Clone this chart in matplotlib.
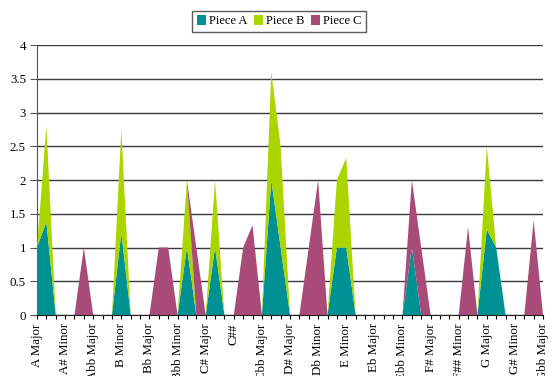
import matplotlib
matplotlib.use("Agg")
import matplotlib.pyplot as plt
import numpy as np

plt.rcParams["font.family"] = ["Liberation Serif", "DejaVu Serif"]

keys = [
    "A Major", "A Minor", "A# Major", "A# Minor", "Ab Major", "Ab Minor",
    "Abb Major", "Abb Minor", "B Major", "B Minor", "B# Major", "B# Minor",
    "Bb Major", "Bb Minor", "Bbb Major", "Bbb Minor", "C Major", "C Minor",
    "C# Major", "C# Minor", "C## Major", "C##", "Cb Major", "Cb Minor",
    "Cbb Major", "D Major", "D Minor", "D# Major", "D# Minor", "Db Major",
    "Db Minor", "Dbb Major", "E Major", "E Minor", "E# Major", "E# Minor",
    "Eb Major", "Eb Minor", "Ebb Major", "Ebb Minor", "F Major", "F Minor",
    "F# Major", "F# Minor", "F## Major", "F## Minor", "Fb Major", "Fb Minor",
    "G Major", "G Minor", "G# Major", "G# Minor", "Gb Major", "Gb Minor",
    "Gbb Major",
]

piece_a = [1.0, 1.38, 0, 0, 0, 0, 0, 0, 0, 1.22, 0,
           0, 0, 0, 0, 0, 1.0, 0, 0, 1.0, 0, 0,
           0, 0, 0, 2.0, 1.0, 0, 0, 0, 0, 0, 1.0,
           1.0, 0, 0, 0, 0, 0, 0, 1.0, 0, 0, 0,
           0, 0, 0, 0, 1.27, 1.0, 0, 0, 0, 0, 0]
piece_b = [0, 1.42, 0, 0, 0, 0, 0, 0, 0, 1.53, 0,
           0, 0, 0, 0, 0, 1.0, 0, 0, 1.0, 0, 0,
           0, 0, 0, 1.6, 1.5, 0, 0, 0, 0, 0, 1.0,
           1.33, 0, 0, 0, 0, 0, 0, 0, 0, 0, 0,
           0, 0, 0, 0, 1.23, 0, 0, 0, 0, 0, 0]
piece_c = [0, 0, 0, 0, 0, 1.0, 0, 0, 0, 0, 0,
           0, 0, 1.0, 1.0, 0, 0, 1.0, 0, 0, 0, 0,
           1.0, 1.33, 0, 0, 0, 0, 0, 1.0, 2.0, 0, 0,
           0, 0, 0, 0, 0, 0, 0, 1.0, 1.0, 0, 0,
           0, 0, 1.3, 0, 0, 0, 0, 0, 0, 1.4, 0]

series = ["Piece A", "Piece B", "Piece C"]
colors = ["#009292", "#acd400", "#a94b78"]


def plot_pieces():
    fig = plt.figure(figsize=(5.53, 3.76), dpi=100)
    ax = fig.add_axes([0.0669, 0.1622, 0.9151, 0.7181])
    x = np.arange(len(keys))

    polys = ax.stackplot(x, piece_a, piece_b, piece_c, colors=colors,
                         labels=series, linewidth=0, zorder=3)

    ax.set_xlim(0, len(keys) - 1)
    ax.set_ylim(0, 4)
    ax.set_yticks(np.arange(0, 4.01, 0.5))
    ax.set_yticklabels(["0", "0.5", "1", "1.5", "2", "2.5", "3", "3.5", "4"])
    ax.yaxis.grid(True, color="#3a3a3a", linewidth=1.0, zorder=0)
    ax.set_axisbelow(True)

    # only every third key gets a label, like the spreadsheet axis
    ax.set_xticks(x)
    ax.set_xticklabels([k if i % 3 == 0 else "" for i, k in enumerate(keys)],
                       rotation=90, ha="center", va="top")
    ax.tick_params(axis="x", length=3, width=0.8, pad=3, labelsize=9.3)
    ax.tick_params(axis="y", length=5, width=0.8, pad=3, labelsize=9.3,
                   color="#555555")

    for side in ["top", "right"]:
        ax.spines[side].set_visible(False)
    ax.spines["left"].set_color("#555555")
    ax.spines["bottom"].set_color("#222222")
    ax.spines["bottom"].set_zorder(4)

    fig.legend(polys, series, loc="center", bbox_to_anchor=(0.505, 0.943),
               ncol=3, fontsize=9, frameon=True, fancybox=False,
               edgecolor="#333333", handlelength=0.75, handleheight=0.75,
               handletextpad=0.25, columnspacing=0.5, borderpad=0.35,
               borderaxespad=0)

    fig.savefig("out.png", dpi=100)


plot_pieces()
